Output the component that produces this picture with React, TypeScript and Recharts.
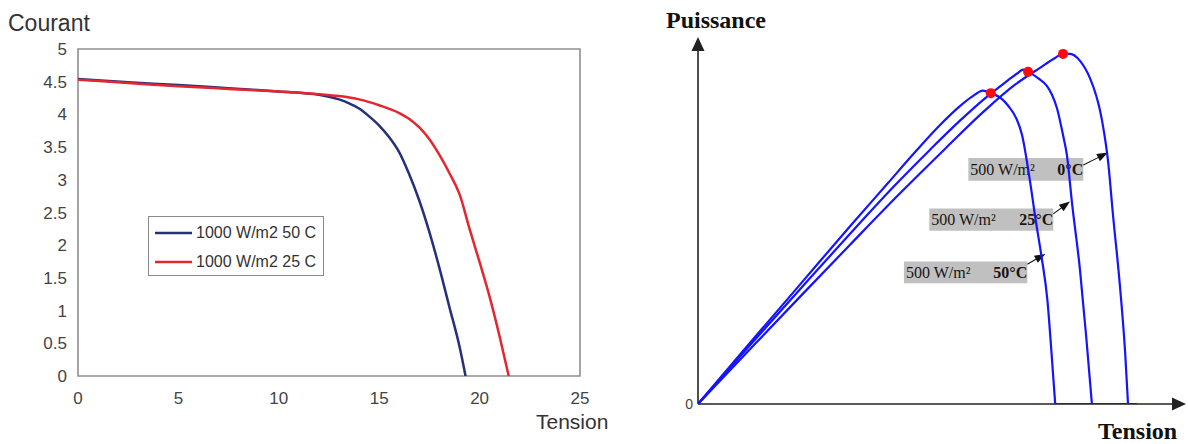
import React from 'react';
import { LineChart, Line, XAxis, YAxis, ReferenceArea, ReferenceLine, ReferenceDot, Legend } from 'recharts';

// ---------- Left chart: Courant / Tension ----------
const seriesNames = ['1000 W/m2 50 C', '1000 W/m2 25 C'];
const seriesColors = ['#26317c', '#e3262f'];
const tension50 = [0, 2.5, 5, 7.5, 10, 12, 12.5, 13, 13.5, 14, 14.5, 15, 15.5, 16, 16.5, 17, 17.5, 18, 18.5, 19, 19.3];
const courant50 = [4.54, 4.49, 4.45, 4.4, 4.35, 4.3, 4.27, 4.23, 4.17, 4.09, 3.97, 3.83, 3.65, 3.42, 3.08, 2.68, 2.2, 1.65, 1.05, 0.45, 0];
const tension25 = [0, 2.5, 5, 7.5, 10, 12, 13, 14, 15, 16, 16.5, 17, 17.5, 18, 18.5, 19, 19.5, 20, 20.5, 21, 21.45];
const courant25 = [4.53, 4.48, 4.43, 4.39, 4.35, 4.31, 4.28, 4.23, 4.14, 4.02, 3.93, 3.8, 3.62, 3.38, 3.1, 2.78, 2.25, 1.74, 1.21, 0.6, 0];
const xTicksLeft = [0, 5, 10, 15, 20, 25];
const yTicksLeft = [0, 0.5, 1, 1.5, 2, 2.5, 3, 3.5, 4, 4.5, 5];

// ---------- Right chart: Puissance / Tension ----------
const v50 = [0, 2.7, 5.3, 7.8, 9.7, 11.1, 12.4, 13.3, 14.0, 14.6, 15.0, 15.5, 15.9, 16.3, 16.6, 17.0, 17.3, 17.6, 17.9, 18.1, 18.3];
const p50 = [0, 16.9, 33.0, 48.5, 60.0, 68.5, 76.0, 80.6, 83.6, 85.4, 84.7, 83.4, 81.2, 77.9, 73.3, 61.0, 50.1, 40.1, 28.3, 14.7, 0];
const v25 = [0, 2.66, 5.33, 7.79, 10.09, 11.89, 13.42, 14.7, 15.73, 16.39, 16.65, 16.91, 17.42, 17.88, 18.14, 18.39, 18.7, 18.9, 19.16, 19.57, 19.88, 20.18];
const p25 = [0, 16.0, 31.9, 46.4, 59.6, 69.3, 77.2, 83.3, 87.6, 90.2, 91.1, 90.5, 88.8, 86.6, 84.2, 80.6, 73.3, 67.8, 54.8, 36.5, 18.8, 0];
const v0 = [0, 2.66, 5.33, 7.79, 10.35, 12.65, 14.7, 16.24, 17.52, 18.29, 18.7, 19.06, 19.57, 20.08, 20.39, 20.59, 20.8, 21.0, 21.26, 21.62, 21.88, 22.03];
const p0 = [0, 14.9, 29.8, 43.4, 57.4, 69.5, 80.0, 87.0, 91.6, 94.3, 95.4, 95.4, 93.5, 88.8, 84.2, 80.1, 74.1, 66.5, 51.5, 31.9, 14.2, 0];
const vFlat = [18.3, 22.5];
const pFlat = [0, 0];
const mppV = [15.0, 16.91, 18.7];
const mppP = [84.7, 90.5, 95.4];
const labelIrr = '500 W/m²';
const labelTemps = ['0°C', '25°C', '50°C'];
const boxV1 = [13.85, 11.85, 10.55];
const boxV2 = [19.74, 18.2, 16.87];
const boxP1 = [60.8, 47.2, 32.9];
const boxP2 = [67.0, 53.3, 38.8];
const arrowFromV = [19.74, 18.2, 16.87];
const arrowFromP = [65.1, 51.8, 38.1];
const arrowToV = [21.0, 19.06, 17.8];
const arrowToP = [68.5, 55.2, 40.9];

const toPts = (xs: number[], ys: number[], yk: string) => xs.map((x, i) => ({ v: x, [yk]: ys[i] }));

const leftData = [toPts(tension50, courant50, 'i'), toPts(tension25, courant25, 'i')];
const rightData = [toPts(v50, p50, 'p'), toPts(v25, p25, 'p'), toPts(v0, p0, 'p'), toPts(vFlat, pFlat, 'p')];

const SANS = 'Liberation Sans, Arial, sans-serif';
const SERIF = 'Liberation Serif, Times New Roman, serif';

const makeArrow = (headLen: number, headW: number, color: string, width: number) => (props: any) => {
  const { x1, y1, x2, y2 } = props;
  const dx = x2 - x1;
  const dy = y2 - y1;
  const len = Math.hypot(dx, dy) || 1;
  const ux = dx / len;
  const uy = dy / len;
  const bx = x2 - ux * headLen;
  const by = y2 - uy * headLen;
  const px = (-uy * headW) / 2;
  const py = (ux * headW) / 2;
  return (
    <g>
      <line x1={x1} y1={y1} x2={bx + ux} y2={by + uy} stroke={color} strokeWidth={width} />
      <polygon points={`${x2},${y2} ${bx + px},${by + py} ${bx - px},${by - py}`} fill={color} />
    </g>
  );
};

const axisArrow = makeArrow(14, 13, '#222', 1.6);
const labelArrow = makeArrow(11, 8, '#111', 1.1);

const LeftLegend = () => (
  <div
    style={{
      boxSizing: 'border-box',
      width: 176,
      height: 60,
      border: '1.5px solid #8a8a8a',
      background: '#fff',
      paddingTop: 1,
      fontFamily: SANS,
      fontSize: 16,
      color: '#333',
    }}
  >
    {seriesNames.map((n, i) => (
      <div key={n} style={{ display: 'flex', alignItems: 'center', height: 29 }}>
        <svg width={46} height={6} style={{ display: 'block' }}>
          <line x1={6} y1={3} x2={43} y2={3} stroke={seriesColors[i]} strokeWidth={2.5} />
        </svg>
        <span style={{ marginLeft: 1, whiteSpace: 'nowrap' }}>{n}</span>
      </div>
    ))}
  </div>
);

const LeftChart = () => (
  <LineChart width={640} height={444} margin={{ top: 49, right: 60, bottom: 0, left: 0 }}>
    <XAxis
      type="number"
      dataKey="v"
      domain={[0, 25]}
      ticks={xTicksLeft}
      allowDataOverflow
      axisLine={false}
      tickLine={false}
      tickSize={0}
      tickMargin={16}
      height={68}
      tick={{ fontSize: 17, fill: '#444', fontFamily: SANS }}
      label={{
        content: () => (
          <text x={536} y={429} fontSize={21} fill="#333" fontFamily={SANS}>
            Tension
          </text>
        ),
      }}
    />
    <YAxis
      type="number"
      domain={[0, 5]}
      ticks={yTicksLeft}
      allowDataOverflow
      width={78}
      axisLine={false}
      tickLine={false}
      tickSize={0}
      tickMargin={11}
      tick={{ fontSize: 17, fill: '#444', fontFamily: SANS }}
      label={{
        content: () => (
          <text x={8} y={31} fontSize={23} fill="#333" fontFamily={SANS}>
            Courant
          </text>
        ),
      }}
    />
    <ReferenceArea x1={0} x2={25} y1={0} y2={5} fill="none" stroke="#8f8f8f" strokeWidth={1.6} ifOverflow="visible" />
    {leftData.map((d, i) => (
      <Line
        key={seriesNames[i]}
        data={d}
        dataKey="i"
        name={seriesNames[i]}
        type="monotone"
        stroke={seriesColors[i]}
        strokeWidth={2.5}
        dot={false}
        isAnimationActive={false}
      />
    ))}
    <Legend
      layout="vertical"
      align="center"
      verticalAlign="middle"
      content={() => <LeftLegend />}
      wrapperStyle={{ left: 148, top: 216, width: 176, height: 60 }}
    />
  </LineChart>
);

const RightChart = () => (
  <LineChart width={588} height={444} margin={{ top: 37, right: 2, bottom: 40, left: 0 }}>
    <XAxis type="number" dataKey="v" domain={[0, 25]} hide allowDataOverflow />
    <YAxis
      type="number"
      domain={[0, 100]}
      ticks={[0]}
      allowDataOverflow
      width={98}
      axisLine={false}
      tickLine={false}
      tickSize={0}
      tickMargin={5}
      tick={{ fontSize: 14, fill: '#444', fontFamily: SANS }}
      label={{
        content: () => (
          <g>
            <text x={66} y={28} fontSize={24} fontWeight="bold" fill="#111" fontFamily={SERIF}>
              Puissance
            </text>
            <text x={498} y={439} fontSize={24} fontWeight="bold" fill="#111" fontFamily={SERIF}>
              Tension
            </text>
          </g>
        ),
      }}
    />
    <ReferenceLine segment={[{ x: 0, y: 0 }, { x: 0, y: 100 }]} shape={axisArrow} ifOverflow="visible" />
    <ReferenceLine segment={[{ x: 0, y: 0 }, { x: 25, y: 0 }]} shape={axisArrow} ifOverflow="visible" />
    {labelTemps.map((t, i) => (
      <ReferenceArea
        key={'box' + t}
        x1={boxV1[i]}
        x2={boxV2[i]}
        y1={boxP1[i]}
        y2={boxP2[i]}
        fill="#c0c0c0"
        fillOpacity={1}
        stroke="none"
        ifOverflow="visible"
        label={{
          content: (lp: any) => {
            const vb = lp.viewBox || {};
            const cy = vb.y + vb.height / 2 + 5.5;
            return (
              <g>
                <text x={vb.x + 2} y={cy} fontSize={16} fill="#1a1410" fontFamily={SERIF}>
                  {labelIrr}
                </text>
                <text x={vb.x + vb.width} y={cy} fontSize={16} fontWeight="bold" fill="#1a1410" textAnchor="end" fontFamily={SERIF}>
                  {t}
                </text>
              </g>
            );
          },
        }}
      />
    ))}
    {labelTemps.map((t, i) => (
      <ReferenceLine
        key={'arr' + t}
        segment={[
          { x: arrowFromV[i], y: arrowFromP[i] },
          { x: arrowToV[i], y: arrowToP[i] },
        ]}
        shape={labelArrow}
        ifOverflow="visible"
      />
    ))}
    {rightData.map((d, i) => (
      <Line
        key={'pv' + i}
        data={d}
        dataKey="p"
        type="monotone"
        stroke="#1414ff"
        strokeWidth={2.2}
        dot={false}
        isAnimationActive={false}
      />
    ))}
    {mppV.map((v, i) => (
      <ReferenceDot key={'mpp' + i} x={v} y={mppP[i]} r={5} fill="#ff0a0a" stroke="none" ifOverflow="visible" />
    ))}
  </LineChart>
);

export default function App() {
  return (
    <div style={{ position: 'absolute', left: 0, top: 0, width: 1188, height: 444, background: '#fff', overflow: 'hidden' }}>
      <div style={{ position: 'absolute', left: 0, top: 0 }}>
        <LeftChart />
      </div>
      <div style={{ position: 'absolute', left: 600, top: 0 }}>
        <RightChart />
      </div>
    </div>
  );
}
